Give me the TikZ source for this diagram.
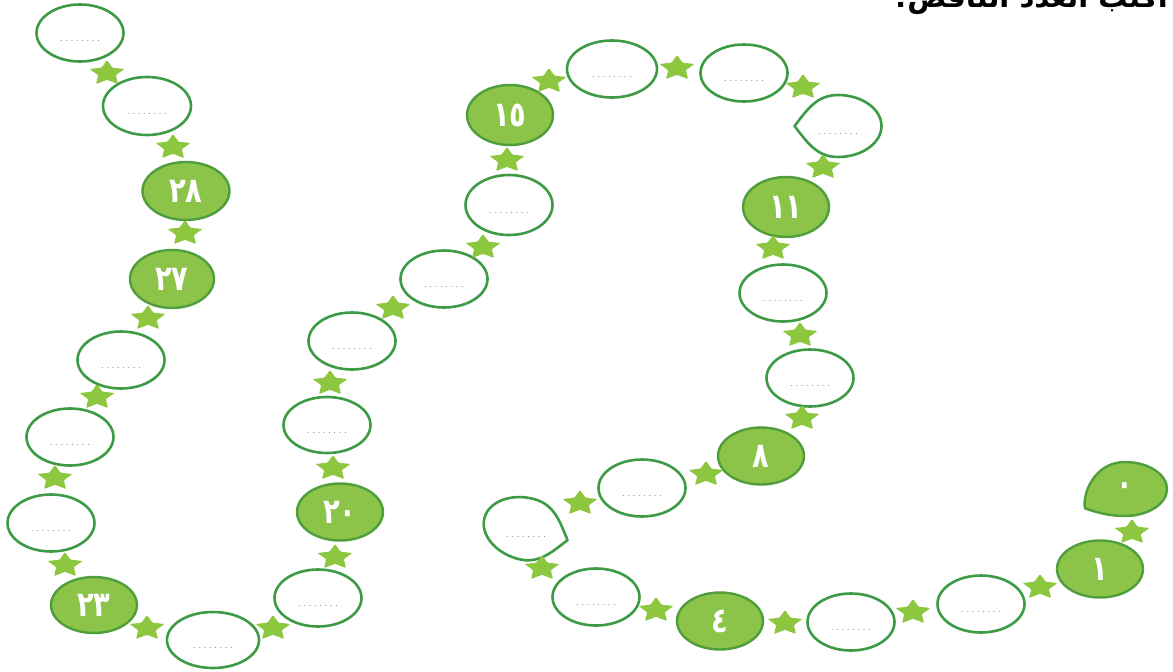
\documentclass[tikz,border=0pt]{standalone}
\usepackage{fontspec}
\newfontfamily\arabicfont[Script=Arabic]{DejaVu Sans}
\newfontfamily\numfamily[Script=Arabic, FakeStretch=0.78]{DejaVu Sans}
\TeXXeTstate=1
\usetikzlibrary{shapes.geometric}
\definecolor{ring}{HTML}{3E9B45}
\definecolor{gfill}{HTML}{8CC44A}
\definecolor{gborder}{HTML}{4E9E3C}
\definecolor{starcol}{HTML}{8DC63F}
\definecolor{dotcol}{HTML}{707682}
\newcommand\numfnt{\numfamily\bfseries\fontsize{35}{35}\selectfont}
\newcommand\dotstr{\fontsize{11}{11}\selectfont .\hspace{2.3pt}.\hspace{2.3pt}.\hspace{2.3pt}.\hspace{2.3pt}.\hspace{2.3pt}.\hspace{2.3pt}.\hspace{2.3pt}.}
\newcommand\droppath{(-1,0) .. controls (-0.72,-0.5) and (-0.5,-1) .. (0,-1) .. controls (0.55,-1) and (1,-0.55) .. (1,0) .. controls (1,0.55) and (0.55,1) .. (0,1) .. controls (-0.5,1) and (-0.72,0.5) .. (-1,0) -- cycle}
\newcommand\cornerpath{(-0.95,0.72) .. controls (-1.03,0.25) and (-0.75,-1) .. (0,-1) .. controls (0.55,-1) and (1,-0.55) .. (1,0) .. controls (1,0.55) and (0.55,1) .. (0,1) .. controls (-0.4,1) and (-0.7,0.85) .. (-0.95,0.72) -- cycle}
\begin{document}
\begin{tikzpicture}[x=1pt,y=-1pt,
  dotlbl/.style={text=dotcol, yshift=-8pt, inner sep=0pt},
  blankoval/.style={ellipse, draw=ring, line width=2.6pt, fill=white, minimum width=87pt, minimum height=57pt, inner sep=0pt, label={[dotlbl]center:\dotstr}},
  numoval/.style={ellipse, draw=gborder, line width=2.4pt, fill=gfill, minimum width=86pt, minimum height=57pt, inner sep=0pt, text=white, font=\numfnt},
  blankdrop/.style={draw=ring, line width=2.6pt, fill=white, line join=round},
  numdrop/.style={draw=gborder, line width=2.4pt, fill=gfill, line join=round},
  dropblank/.style={ellipse, minimum width=80pt, minimum height=50pt, inner sep=0pt, label={[dotlbl]center:\dotstr}},
  dropnum/.style={ellipse, minimum width=80pt, minimum height=50pt, inner sep=0pt, text=white, font=\numfnt},
  starpic/.pic={\fill[starcol, rounded corners=1pt] (0,-13) -- (5.5,-5.3) -- (17.5,-4) -- (8.8,2.2) -- (11,11) -- (0,6.8) -- (-11,11) -- (-8.8,2.2) -- (-17.5,-4) -- (-5.5,-5.3) -- cycle;}
]
\useasboundingbox (0,0) rectangle (1173,672);
\clip (0,0) rectangle (1173,672);

% title (cut off at the top edge)
\node[anchor=base east, inner sep=0pt, font=\arabicfont\bfseries\fontsize{29}{29}\selectfont] (title) at (1168,7) {\beginR اكتب العدد الناقص!\endR};

% drop-shaped ovals
\path[numdrop, shift={(1125,489)}, xscale=42, yscale=27] \cornerpath;
\node[dropnum] (n0) at (1125,489) {٠};
\path[blankdrop, shift={(526,529)}, rotate=165, xscale=43, yscale=31] \droppath;
\node[dropblank] (n6) at (526,529) {};
\path[blankdrop, shift={(838,126)}, xscale=43.5, yscale=31] \droppath;
\node[dropblank] (n12) at (838,126) {};

% ovals
\node[numoval, minimum height=60pt] (n15) at (510,115) {١٥};
\node[numoval] (n1) at (1100,569) {١};
\node[blankoval] (n2) at (981,604) {};
\node[blankoval] (n3) at (851,622) {};
\node[numoval] (n4) at (720,621) {٤};
\node[blankoval] (n5) at (596,597) {};
\node[blankoval] (n7) at (642,488) {};
\node[numoval] (n8) at (761,456) {٨};
\node[blankoval] (n9) at (810,378) {};
\node[blankoval] (n10) at (783,293) {};
\node[numoval, minimum height=60pt] (n11) at (786,207) {١١};
\node[blankoval] (n13) at (744,73) {};
\node[blankoval, minimum width=90pt] (n14) at (612,69) {};
\node[blankoval, minimum height=60pt] (n16) at (509,205) {};
\node[blankoval] (n17) at (444,279) {};
\node[blankoval] (n18) at (352,341) {};
\node[blankoval, minimum height=56pt] (n19) at (327,425) {};
\node[numoval] (n20) at (340,512) {٢٠};
\node[blankoval] (n21) at (318,598) {};
\node[blankoval, minimum width=92pt, minimum height=56pt] (n22) at (213,640) {};
\node[numoval, minimum height=56pt] (n23) at (94,605) {٢٣};
\node[blankoval] (n24) at (51,523) {};
\node[blankoval] (n25) at (70,437) {};
\node[blankoval] (n26) at (121,360) {};
\node[numoval, minimum width=84pt, minimum height=58pt] (n27) at (172,279) {٢٧};
\node[numoval, minimum width=87pt, minimum height=58pt] (n28) at (186,191) {٢٨};
\node[blankoval, minimum width=88pt, minimum height=58pt] (n29) at (147,106) {};
\node[blankoval] (n30) at (80,33) {};

% stars between consecutive ovals
\pic (s0) at (1132,532) {starpic};
\pic (s1) at (1040,587) {starpic};
\pic (s2) at (913,612) {starpic};
\pic (s3) at (785,623) {starpic};
\pic (s4) at (656,610) {starpic};
\pic (s5) at (542,568) {starpic};
\pic (s6) at (580,503) {starpic};
\pic (s7) at (706,474) {starpic};
\pic (s8) at (802,418) {starpic};
\pic (s9) at (800,335) {starpic};
\pic (s10) at (773,248) {starpic};
\pic (s11) at (823,167) {starpic};
\pic (s12) at (803,87) {starpic};
\pic (s13) at (677,68) {starpic};
\pic (s14) at (549,81) {starpic};
\pic (s15) at (507,160) {starpic};
\pic (s16) at (483,247) {starpic};
\pic (s17) at (393,308) {starpic};
\pic (s18) at (330,383) {starpic};
\pic (s19) at (333,468) {starpic};
\pic (s20) at (335,557) {starpic};
\pic (s21) at (273,628) {starpic};
\pic (s22) at (147,628) {starpic};
\pic (s23) at (65,565) {starpic};
\pic (s24) at (55,478) {starpic};
\pic (s25) at (97,397) {starpic};
\pic (s26) at (148,318) {starpic};
\pic (s27) at (185,233) {starpic};
\pic (s28) at (173,147) {starpic};
\pic (s29) at (107,73) {starpic};
\end{tikzpicture}
\end{document}
